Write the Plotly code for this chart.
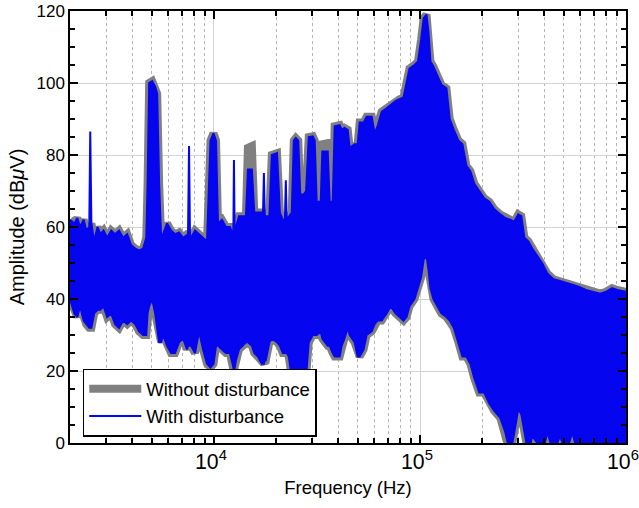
import math
import plotly.graph_objects as go

# spectrum envelopes (Hz, dBuV)
freq_hz = [
    2000, 2100, 2170, 2240, 2330, 2400, 2480, 2508, 2540, 2620, 2720, 2810, 2910,
    3030, 3170, 3310, 3460, 3620, 3790, 3960, 4150, 4330, 4530, 4690, 4760, 4845,
    5010, 5180, 5300, 5416, 5540, 5660, 5920, 6190, 6470, 6770, 7080, 7400, 7480,
    7566, 7650, 7740, 8090, 8460, 8850, 9250, 9620, 9945, 10230, 10460, 10930,
    11430, 11950, 12340, 12420, 12500, 12590, 12780, 13220, 13820, 14290, 14610,
    15270, 15690, 16330, 17080, 17300, 17470, 17640, 17855, 18570, 19090, 20230,
    20890, 21580, 22100, 22320, 22540, 23080, 23850, 24400, 24950, 25640, 26230,
    27270, 27990, 28840, 30160, 30830, 31510, 32970, 33550, 35650, 36450, 37700,
    38530, 40750, 41660, 42950, 44570, 45570, 48150, 49830, 50950, 53240, 55060,
    58290, 60220, 62260, 65150, 68830, 72010, 76080, 79590, 83180, 86000, 88940,
    94010, 97810, 101240, 104230, 107540, 110000, 112390, 116260, 121530, 127100,
    134400, 139400, 145900, 153600, 160700, 168000, 175600, 183600, 194000,
    205000, 217000, 229000, 245400, 259400, 274400, 287000, 300000, 310300,
    321300, 335600, 350800, 370700, 391200, 416000, 445000, 478000, 512000,
    548000, 585000, 639000, 694000, 749000, 800000, 856000, 906000, 1000000,
]
upper_without = [
    62, 61, 62.5, 60, 62, 59, 60, 60, 61, 56, 60, 58, 59,
    57, 59, 58, 59, 57, 58, 55, 54, 53.5, 54, 57, 72, 100,
    100.5, 99, 97, 72, 57, 58, 61, 59, 58, 58.5, 57, 58, 58,
    58, 57, 57, 59, 58, 57, 56, 84, 86, 84, 61, 62,
    60, 60, 58, 59, 59, 59, 60, 63, 63, 63, 82,
    82.5, 64, 64, 64, 64, 64, 63, 63, 63, 80, 80.5,
    64, 62, 62, 62, 62, 63, 64, 84, 84.7, 84, 69,
    69, 70, 85, 85.2, 84, 67, 67, 83, 83.3, 67, 67,
    88, 88.3, 87, 87.5, 87, 82, 83, 83, 89, 89, 90.6,
    90.6, 86, 88, 92, 93, 94, 95, 95.5, 96, 100, 104,
    105, 106, 112, 118, 119, 114, 106, 104.5, 102, 99.5,
    98.5, 90, 87, 84, 83, 77, 75.5, 72, 70,
    68, 67, 65, 63.5, 62.5, 62, 61.5, 63.5, 63,
    57, 56, 54, 52, 50, 47, 45.5, 45, 44.5,
    44, 43.5, 42.5, 42, 41.5, 42, 43, 42.5, 42,
]
upper_with = [
    62, 61, 62.5, 60, 62, 59, 60, 86.5, 61, 56, 60, 58, 59,
    57, 59, 58, 59, 57, 58, 55, 54, 53.5, 54, 57, 72, 100,
    100.5, 99, 97, 72, 57, 58, 61, 59, 58, 58.5, 57, 58, 58,
    82.5, 57, 57, 59, 58, 57, 56, 84, 86, 84, 61, 62,
    60, 60, 58, 59, 78.6, 59, 60, 63, 63, 63, 76,
    76, 64, 64, 64, 64, 75, 63, 63, 63, 80, 80.5,
    64, 62, 62, 73, 62, 63, 64, 84, 84.7, 84, 69,
    69, 70, 85, 85.2, 84, 67, 67, 81, 81, 67, 67,
    88, 88.3, 87, 87.5, 87, 82, 83, 83, 89, 89, 90.6,
    90.6, 86, 88, 92, 93, 94, 95, 95.5, 96, 100, 104,
    105, 106, 112, 118, 119, 114, 106, 104.5, 102, 99.5,
    98.5, 90, 87, 84, 83, 77, 75.5, 72, 70,
    68, 67, 65, 63.5, 62.5, 62, 61.5, 63.5, 63,
    57, 56, 54, 52, 50, 47, 45.5, 45, 44.5,
    44, 43.5, 42.5, 42, 41.5, 42, 43, 42.5, 42,
]
lower_env = [
    40, 36, 35, 38, 34, 33, 32, 32, 32, 36, 37, 37, 38,
    35, 36, 33, 32, 34, 33, 34, 33, 31, 30, 30, 36, 38,
    40, 36, 31, 28, 28, 30, 27, 25, 25, 28, 29, 26, 27,
    27, 27, 27, 25, 31, 26, 22, 21, 22, 27, 27, 26,
    25, 25, 22, 21, 19.5, 21, 23, 26, 27, 28, 28,
    27, 25, 24, 22, 22, 22, 23, 23, 28, 29, 28,
    27, 25, 25, 25, 25, 24, 18, 9, 3, 12, 20,
    10, 18, 28, 30, 30, 30, 31, 29, 27, 27, 25,
    24, 24, 27, 29, 32, 30, 28, 24, 24, 26, 30,
    31, 33, 34, 34, 36, 38, 36, 35, 34, 35, 38,
    40, 43, 46, 51, 52, 48, 43, 40, 38, 36,
    35, 34, 32, 28, 24, 24, 22, 18, 14,
    14, 11, 9, 7, 3, -3, 3, 9.5, 8,
    3, -3, 2, 0, -3, 3, -3, 2, -3,
    3, -3, -3, -3, -3, -3, -3, -3, -3,
]

GRAY = "rgb(128,128,128)"
BLUE = "rgb(5,5,240)"

fig = go.Figure()

# gray thick line: upper and lower envelope of the undisturbed spectrum
fig.add_trace(go.Scatter(
    x=freq_hz + [None] + freq_hz,
    y=upper_without + [None] + lower_env,
    mode="lines", line=dict(color=GRAY, width=8),
    name="Without disturbance",
))
# blue body of the disturbed spectrum
fig.add_trace(go.Scatter(
    x=freq_hz + freq_hz[::-1],
    y=upper_with + lower_env[::-1],
    mode="lines", fill="toself", fillcolor=BLUE,
    line=dict(width=0), showlegend=False, hoverinfo="skip",
))
fig.add_trace(go.Scatter(
    x=freq_hz + [None] + freq_hz,
    y=upper_with + [None] + lower_env,
    mode="lines", line=dict(color=BLUE, width=2),
    name="With disturbance",
))

axis_common = dict(
    showline=True, linecolor="black", linewidth=1.5, mirror="allticks",
    ticks="inside", ticklen=8, tickwidth=1.5, tickcolor="black",
    showgrid=True, gridcolor="#d2d2d2", gridwidth=1, zeroline=False,
    automargin=False, ticklabeloverflow="allow",
)

fig.update_xaxes(
    type="log", range=[math.log10(2000), 6], dtick=1, exponentformat="power",
    ticklabelshift=-3,
    title=dict(text="Frequency (Hz)", standoff=8, font=dict(size=18.5)),
    minor=dict(dtick="D1", ticks="inside", ticklen=5, tickwidth=1.5,
               tickcolor="black", showgrid=True, gridcolor="#b5b5b5",
               griddash="dot"),
    **axis_common,
)
fig.update_yaxes(
    range=[0, 120], dtick=20,
    title=dict(text="Amplitude (dB<i>μ</i>V)", standoff=6),
    minor=dict(dtick=5, ticks="inside", ticklen=5, tickwidth=1.5,
               tickcolor="black"),
    **axis_common,
)

fig.update_layout(
    width=639, height=508,
    margin=dict(l=70, r=13, t=11, b=65, autoexpand=False),
    paper_bgcolor="white", plot_bgcolor="white",
    font=dict(family="Liberation Sans, Arial, sans-serif", size=17, color="black"),
    legend=dict(
        x=0.023, y=0.093, xanchor="left", yanchor="middle",
        bgcolor="white", bordercolor="black", borderwidth=1.5,
        font=dict(size=18.5), itemwidth=52, tracegroupgap=0,
    ),
)

# drop the browser's default body margin so the figure sits at the page corner
fig.write_html(
    "out.html",
    config=dict(displayModeBar=False),
    post_script="document.body.style.margin='0';",
)
